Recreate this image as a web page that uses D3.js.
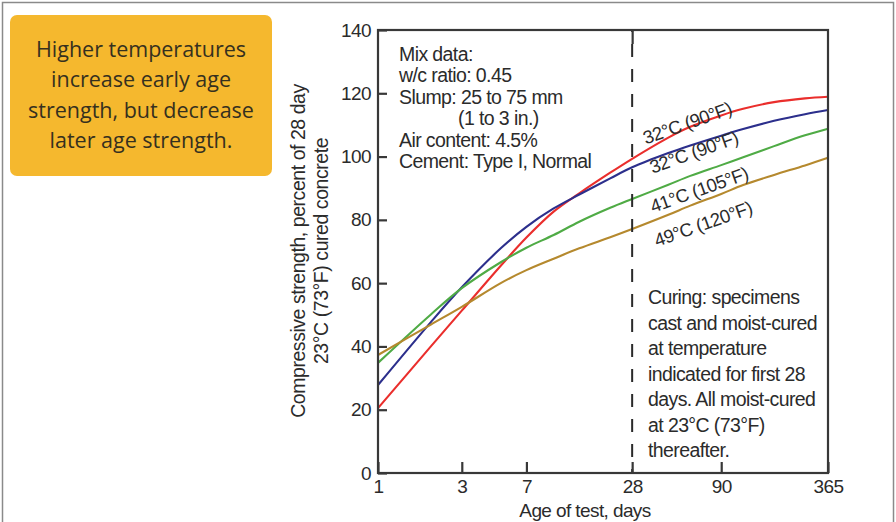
<!DOCTYPE html>
<html>
<head>
<meta charset="utf-8">
<script src="https://cdn.jsdelivr.net/npm/d3@7"></script>
<style>
  body { margin: 0; background: #fff; }
  svg { display: block; }
  .lbl { font-family: "Liberation Sans", Arial, Helvetica, sans-serif; fill: #2b2b2b; }
</style>
</head>
<body>
<svg id="chart" width="896" height="522"></svg>
<script>
// Age of test (days) at which strengths are read
const days = [1, 2, 3, 5, 7, 10, 14, 21, 28, 45, 60, 90, 120, 180, 270, 365];

// Compressive strength, % of 28-day strength of concrete cured at 23°C (73°F)
const strength32Red  = [20.5, 40.0, 51.3, 65.5, 74.4, 82.6, 88.4, 94.9, 99.3, 106.0, 109.4, 113.0, 115.1, 117.2, 118.4, 118.9];
const strength32Blue = [27.8, 47.7, 58.7, 71.0, 77.8, 83.6, 88.0, 93.1, 96.6, 101.1, 103.5, 106.6, 108.7, 111.3, 113.4, 114.7];
const strength41     = [34.8, 50.1, 58.4, 66.6, 71.2, 75.2, 79.4, 83.8, 86.6, 91.1, 93.9, 97.3, 99.8, 103.3, 106.7, 108.8];
const strength49     = [37.3, 46.9, 52.5, 60.0, 64.1, 67.7, 71.0, 74.5, 77.1, 81.6, 84.5, 88.2, 91.0, 94.2, 97.2, 99.6];

const seriesValues = [strength32Red, strength32Blue, strength41, strength49];
const seriesColors = ["#ea2e2c", "#2c2f8c", "#4fab45", "#b5892e"];
const seriesLabels = ["32°C (90°F)", "32°C (90°F)", "41°C (105°F)", "49°C (120°F)"];
// where each curve label starts (day, value)
const labelDay = [33.5, 36.5, 36.8, 38.8];
const labelVal = [103.8, 94.6, 82.2, 71.4];

const xTickValues = [1, 3, 7, 28, 90, 365];
const yTickValues = [0, 20, 40, 60, 80, 100, 120, 140];
const curingDay = 28;

const mixLines = ["Mix data:", "w/c ratio: 0.45", "Slump: 25 to 75 mm", "(1 to 3 in.)", "Air content: 4.5%", "Cement: Type I, Normal"];
const curingLines = ["Curing: specimens", "cast and moist-cured", "at temperature", "indicated for first 28", "days. All moist-cured", "at 23°C (73°F)", "thereafter."];
const calloutLines = ["Higher temperatures", "increase early age", "strength, but decrease", "later age strength."];
const yTitleLines = ["Compressive strength, percent of 28 day", "23°C (73°F) cured concrete"];
const xTitle = "Age of test, days";

const svg = d3.select("#chart");
const W = 896, H = 522;
const plot = { left: 378, right: 828, top: 30, bottom: 473 };

const x = d3.scaleLog().domain([1, 365]).range([plot.left, plot.right]);
const y = d3.scaleLinear().domain([0, 140]).range([plot.bottom, plot.top]);

// outer page border
svg.append("path")
  .attr("d", `M2.5,${H} V2.5 H893.5 V${H}`)
  .attr("fill", "none").attr("stroke", "#8a8a8a").attr("stroke-width", 1.5);

// callout box
const box = svg.append("g");
box.append("rect")
  .attr("x", 10).attr("y", 15).attr("width", 262).attr("height", 161)
  .attr("rx", 7).attr("fill", "#f5b82e");
box.selectAll("text").data(calloutLines).join("text")
  .attr("x", 141).attr("y", (d, i) => 57 + i * 30.3)
  .attr("text-anchor", "middle")
  .style("font-family", "'Open Sans', Lato, sans-serif")
  .style("font-size", "21.5px")
  .style("fill", "#35301f")
  .text(d => d);

// curves
const line = d3.line()
  .x((d, i) => x(days[i]))
  .y(d => y(d))
  .curve(d3.curveCatmullRom.alpha(0.5));

svg.append("g").selectAll("path").data(seriesValues).join("path")
  .attr("d", d => line(d))
  .attr("fill", "none")
  .attr("stroke", (d, i) => seriesColors[i])
  .attr("stroke-width", 2.1);

// dashed curing-change line at 28 days
svg.append("line")
  .attr("x1", x(curingDay)).attr("x2", x(curingDay))
  .attr("y1", y(140)).attr("y2", y(0))
  .attr("stroke", "#2a2a2a").attr("stroke-width", 2)
  .attr("stroke-dasharray", "13,12").attr("stroke-dashoffset", -14);

// frame
svg.append("rect")
  .attr("x", plot.left).attr("y", plot.top)
  .attr("width", plot.right - plot.left).attr("height", plot.bottom - plot.top)
  .attr("fill", "none").attr("stroke", "#383838").attr("stroke-width", 2.2);

// axes
const fmt = d3.format("d");
const yAxis = svg.append("g").attr("transform", `translate(${plot.left},0)`)
  .call(d3.axisLeft(y).tickValues(yTickValues).tickSizeInner(-9).tickSizeOuter(0).tickPadding(7).tickFormat(fmt));
const xAxis = svg.append("g").attr("transform", `translate(0,${plot.bottom})`)
  .call(d3.axisBottom(x).tickValues(xTickValues).tickSizeInner(-11).tickSizeOuter(0).tickPadding(7).tickFormat(fmt));
const topAxis = svg.append("g").attr("transform", `translate(0,${plot.top})`)
  .call(d3.axisTop(x).tickValues([curingDay]).tickSizeInner(-14).tickSizeOuter(0).tickFormat(""));

[yAxis, xAxis, topAxis].forEach(g => {
  g.select(".domain").remove();
  g.selectAll(".tick line").attr("stroke", "#383838").attr("stroke-width", 2.2);
  g.selectAll(".tick text")
    .attr("class", "lbl")
    .style("font-size", "19px")
    .style("letter-spacing", "-0.6px")
    .style("font-family", "'Liberation Sans', Arial, sans-serif")
    .style("fill", "#2b2b2b");
});
xAxis.selectAll(".tick text").attr("dy", "0.66em");

// text style helper
function txt(sel, size, spacing) {
  return sel.attr("class", "lbl").style("font-size", size + "px").style("letter-spacing", spacing + "px");
}

// curve labels
svg.append("g").selectAll("text").data(seriesLabels).join("text")
  .call(s => txt(s, 18.5, -0.5))
  .attr("transform", (d, i) => `translate(${x(labelDay[i])},${y(labelVal[i])}) rotate(-19.5)`)
  .text(d => d);

// mix data
svg.append("g").selectAll("text").data(mixLines).join("text")
  .call(s => txt(s, 19.5, -0.6))
  .attr("x", (d, i) => i === 3 ? 458 : 399)
  .attr("y", (d, i) => 61 + i * 21.4)
  .text(d => d);

// curing note
svg.append("g").selectAll("text").data(curingLines).join("text")
  .call(s => txt(s, 19.5, -0.6))
  .attr("x", 648)
  .attr("y", (d, i) => 304 + i * 25.5)
  .text(d => d);

// axis titles
txt(svg.append("text"), 19, -0.6)
  .attr("x", 585).attr("y", 517)
  .attr("text-anchor", "middle")
  .text(xTitle);

svg.append("g").selectAll("text").data(yTitleLines).join("text")
  .call(s => txt(s, 19.5, -0.45))
  .attr("text-anchor", "middle")
  .attr("transform", (d, i) => `translate(${305 + i * 23},251) rotate(-90)`)
  .text(d => d);
</script>
</body>
</html>
